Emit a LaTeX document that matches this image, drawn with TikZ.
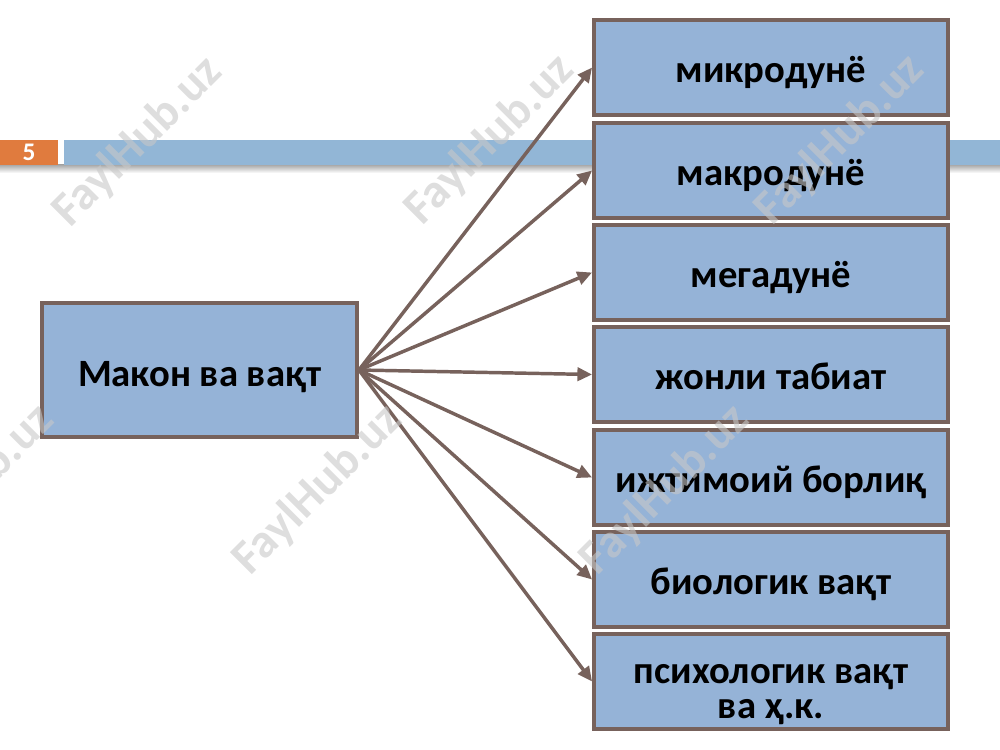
\documentclass[tikz,border=0pt]{standalone}
\usepackage{fontspec}
\setmainfont{Carlito}
\usetikzlibrary{arrows.meta}
\definecolor{boxfill}{RGB}{149,179,215}
\definecolor{boxline}{RGB}{119,98,92}
\definecolor{slideorange}{RGB}{224,123,62}
\definecolor{barblue}{RGB}{146,182,214}
\definecolor{markgray}{RGB}{200,200,200}
\tikzset{every picture/.style={line width=0.75pt}}
\tikzset{
  itembox/.style={draw=boxline, fill=boxfill, line width=2.9pt, inner sep=0pt,
    minimum width=265.5pt, minimum height=71.25pt, align=center,
    text height=22pt, text depth=0pt,
    font=\bfseries\fontsize{29}{26}\selectfont},
  mainbox/.style={itembox, minimum width=236.25pt, minimum height=100.5pt, text height=25pt},
  link/.style={draw=boxline, line width=2.6pt, -{Triangle[length=11pt,width=10pt]}},
  fmark/.style={rotate=45, text=markgray, opacity=0.6,
    font=\bfseries\fontsize{36}{36}\selectfont}
}

\begin{document}
\begin{tikzpicture}[x=0.75pt,y=0.75pt,yscale=-1,xscale=1]
\useasboundingbox (0,0) rectangle (1000,750);
%Slide header bar
\shade [top color=gray!75, bottom color=white] (0,164) rectangle (1000,173) ;
\fill [slideorange] (0,140) rectangle (58,165) ;
\fill [barblue] (64,140) rectangle (1000,165) ;
\node [text=white, font=\bfseries\fontsize{19}{19}\selectfont] (num) at (29,152.5) {5};
%Shape: Rectangle [id:main]
\node [mainbox] (src) at (199.5,370) {Макон ва вақт};
%Shape: Rectangles [id:items]
\node [itembox] (micro) at (771,67.5) {микродунё};
\node [itembox] (macro) at (771,170.5) {макродунё};
\node [itembox] (mega) at (771,272.5) {мегадунё};
\node [itembox] (live) at (771,374.5) {жонли табиат};
\node [itembox] (social) at (771,477.5) {ижтимоий борлиқ};
\node [itembox] (bio) at (771,579.5) {биологик вақт};
\node [itembox, text height=55pt] (psych) at (771,681.5) {психологик вақт\\ва ҳ.к.};
%Straight Lines [id:arrows]
\foreach \t in {micro,macro,mega,live,social,bio,psych}
  \draw [link] (src.east) -- (\t.west) ;
%Watermark
\node [fmark] (wm1) at (138,142) {FaylHub.uz};
\node [fmark] (wm2) at (490,140) {FaylHub.uz};
\node [fmark] (wm3) at (840,140) {FaylHub.uz};
\node [fmark] (wm4) at (-30,490) {FaylHub.uz};
\node [fmark] (wm5) at (318,490) {FaylHub.uz};
\node [fmark] (wm6) at (665,490) {FaylHub.uz};
\end{tikzpicture}
\end{document}
